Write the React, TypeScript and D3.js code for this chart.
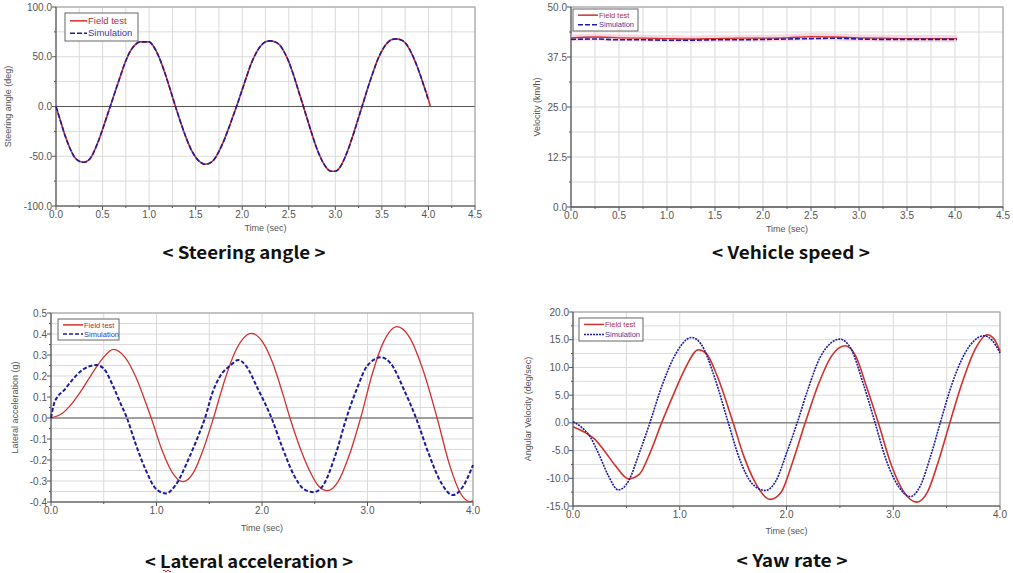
import React from 'react';
import * as d3 from 'd3';

// ---------- DATA ----------
const steerT = [0, 0.05, 0.1, 0.15, 0.2, 0.25, 0.3, 0.35, 0.4, 0.45, 0.5, 0.55, 0.6, 0.65, 0.7, 0.75, 0.8, 0.85, 0.9, 0.95, 1.0, 1.05, 1.1, 1.15, 1.2, 1.25, 1.3, 1.35, 1.4, 1.45, 1.5, 1.55, 1.6, 1.65, 1.7, 1.75, 1.8, 1.85, 1.9, 1.95, 2.0, 2.05, 2.1, 2.15, 2.2, 2.25, 2.3, 2.35, 2.4, 2.45, 2.5, 2.55, 2.6, 2.65, 2.7, 2.75, 2.8, 2.85, 2.9, 2.95, 3.0, 3.05, 3.1, 3.15, 3.2, 3.25, 3.3, 3.35, 3.4, 3.45, 3.5, 3.55, 3.6, 3.65, 3.7, 3.75, 3.8, 3.85, 3.9, 3.95, 4.0, 4.02];
const steerField = [0, -15, -30, -42, -51, -55, -56, -54, -47, -36, -23, -9, 5, 19, 33, 46, 56, 62, 65, 65, 65, 60, 51, 39, 25, 10, -5, -19, -32, -43, -51, -56, -58, -57, -53, -45, -35, -23, -10, 3, 17, 31, 44, 54, 61, 65, 66, 65, 62, 55, 45, 32, 17, 2, -13, -28, -42, -53, -61, -65, -65, -61, -52, -40, -26, -11, 4, 19, 33, 46, 56, 63, 67, 68, 67, 64, 57, 47, 35, 21, 7, 0];
const steerSim = [0, -15, -30, -42, -51, -55, -56, -54, -47, -36, -23, -9, 5, 19, 33, 46, 56, 62, 65, 65, 65, 60, 51, 39, 25, 10, -5, -19, -32, -43, -51, -56, -58, -57, -53, -45, -35, -23, -10, 3, 17, 31, 44, 54, 61, 65, 66, 65, 62, 55, 45, 32, 17, 2, -13, -28, -42, -53, -61, -65, -65, -61, -52, -40, -26, -11, 4, 19, 33, 46, 56, 63, 67, 68, 67, 64, 57, 47, 35, 21, 6];

const velT = [0, 0.25, 0.5, 0.75, 1.0, 1.25, 1.5, 1.75, 2.0, 2.25, 2.5, 2.75, 3.0, 3.25, 3.5, 3.75, 4.0, 4.02];
const velField = [42.3, 42.5, 42.3, 42.2, 42.1, 42.0, 42.1, 42.2, 42.2, 42.3, 42.6, 42.5, 42.3, 42.2, 42.1, 42.1, 42.1, 42.1];
const velSim = [41.9, 42.0, 41.8, 41.8, 41.7, 41.7, 41.8, 41.8, 41.9, 42.0, 42.1, 42.2, 42.0, 41.9, 41.9, 41.9, 41.9, 41.9];

const latFieldT = [0, 0.1, 0.2, 0.3, 0.4, 0.5, 0.59, 0.7, 0.8, 0.9, 0.95, 1.05, 1.15, 1.25, 1.35, 1.45, 1.54, 1.65, 1.75, 1.9, 2.0, 2.1, 2.2, 2.265, 2.35, 2.45, 2.53, 2.62, 2.72, 2.83, 2.935, 3.05, 3.15, 3.28, 3.4, 3.52, 3.66, 3.78, 3.88, 3.97, 4.0];
const latField = [0, 0.02, 0.07, 0.14, 0.22, 0.29, 0.327, 0.29, 0.2, 0.07, 0.0, -0.15, -0.26, -0.303, -0.26, -0.14, 0.0, 0.186, 0.32, 0.403, 0.366, 0.264, 0.11, 0.0, -0.127, -0.25, -0.32, -0.346, -0.304, -0.173, 0.0, 0.218, 0.36, 0.435, 0.383, 0.238, 0.0, -0.227, -0.357, -0.398, -0.395];
const latSimT = [0, 0.03, 0.06, 0.12, 0.2, 0.3, 0.43, 0.5, 0.59, 0.65, 0.72, 0.8, 0.9, 1.0, 1.09, 1.18, 1.3, 1.4, 1.46, 1.53, 1.6, 1.7, 1.775, 1.855, 1.95, 2.09, 2.2, 2.3, 2.4, 2.49, 2.58, 2.7, 2.8, 2.9, 3.0, 3.13, 3.22, 3.35, 3.46, 3.58, 3.7, 3.81, 3.9, 4.0];
const latSim = [0, 0.07, 0.1, 0.13, 0.18, 0.23, 0.252, 0.235, 0.15, 0.08, 0.0, -0.12, -0.25, -0.34, -0.359, -0.32, -0.2, -0.08, 0.0, 0.12, 0.197, 0.25, 0.276, 0.244, 0.15, 0.0, -0.15, -0.27, -0.34, -0.353, -0.32, -0.17, 0.0, 0.14, 0.25, 0.289, 0.26, 0.13, 0.0, -0.17, -0.31, -0.367, -0.33, -0.224];

const yawFieldT = [0, 0.1, 0.2, 0.3, 0.4, 0.52, 0.62, 0.72, 0.83, 0.95, 1.05, 1.175, 1.25, 1.35, 1.5, 1.6, 1.7, 1.846, 1.95, 2.05, 2.175, 2.3, 2.42, 2.55, 2.65, 2.75, 2.86, 2.98, 3.1, 3.22, 3.32, 3.43, 3.53, 3.65, 3.76, 3.88, 3.95, 4.0];
const yawField = [-0.7, -1.6, -2.9, -5.2, -7.8, -10.1, -9.3, -5.5, 0.0, 5.5, 9.8, 13.2, 12.5, 8.5, 0.0, -6.0, -10.5, -13.8, -12.5, -7.5, 0.0, 7.0, 12.0, 13.9, 12.0, 6.5, 0.0, -7.5, -12.5, -14.3, -12.5, -6.5, 0.0, 7.5, 13.0, 15.9, 15.0, 12.9];
const yawSimT = [0, 0.08, 0.16, 0.25, 0.33, 0.425, 0.52, 0.62, 0.72, 0.83, 0.95, 1.11, 1.2, 1.33, 1.455, 1.56, 1.68, 1.8, 1.9, 2.0, 2.1, 2.2, 2.32, 2.5, 2.6, 2.72, 2.83, 2.93, 3.05, 3.16, 3.25, 3.35, 3.44, 3.55, 3.67, 3.85, 3.93, 4.0];
const yawSim = [0.2, -0.8, -2.5, -6.0, -9.5, -12.1, -10.5, -5.5, 0.0, 6.5, 12.0, 15.4, 14.2, 8.0, 0.0, -6.5, -11.0, -12.2, -10.5, -5.5, 0.0, 6.0, 12.0, 15.1, 13.5, 7.0, 0.0, -6.5, -11.5, -13.3, -11.5, -6.0, 0.0, 7.0, 12.5, 15.7, 14.8, 12.6];

const seriesNames = ['Field test', 'Simulation'];
const captions = ['< Steering angle >', '< Vehicle speed >', '< Lateral acceleration >', '< Yaw rate >'];
const yTitles = ['Steering angle (deg)', 'Velocity (km/h)', 'Lateral acceleration (g)', 'Angular Velocity (deg/sec)'];
const xTitle = 'Time (sec)';

// ---------- STYLE ----------
const RED = '#d0312d';
const BLUE = '#1c1ca0';
const GRID = '#dadada';
const TICKFONT = '"Liberation Sans", Arial, sans-serif';

type Cfg = {
  left: number; right: number; top: number; bottom: number;
  xDomain: [number, number]; yDomain: [number, number];
  xTickStep: number; xGridStep: number; yTickStep: number; yGridStep: number;
  yDec: number; tickSize: number;
  yTitle: string; yTitleX: number; xTitleY: number;
  legend: { x: number; y: number; w: number; h: number; fs: number; lineLen: number };
  field: [number, number][]; sim: [number, number][];
  simDash: string; simWidth: number; fieldWidth: number; band?: boolean;
};

const zip = (t: number[], v: number[]): [number, number][] => v.map((d, i) => [t[i], d]);

function range(a: number, b: number, s: number) {
  const out: number[] = [];
  const n = Math.round((b - a) / s);
  for (let i = 0; i <= n; i++) out.push(+(a + i * s).toFixed(6));
  return out;
}

function Panel({ c }: { c: Cfg }) {
  const x = d3.scaleLinear().domain(c.xDomain).range([c.left, c.right]);
  const y = d3.scaleLinear().domain(c.yDomain).range([c.bottom, c.top]);
  const line = d3.line<[number, number]>().x(d => x(d[0])).y(d => y(d[1])).curve(d3.curveMonotoneX);
  const xGrid = range(c.xDomain[0], c.xDomain[1], c.xGridStep);
  const yGrid = range(c.yDomain[0], c.yDomain[1], c.yGridStep);
  const xTicks = range(c.xDomain[0], c.xDomain[1], c.xTickStep);
  const yTicks = range(c.yDomain[0], c.yDomain[1], c.yTickStep);
  const isMajor = (v: number, step: number, base: number) => Math.abs(((v - base) / step) - Math.round((v - base) / step)) < 1e-6;
  const L = c.legend;
  const cx = (c.left + c.right) / 2;
  const cy = (c.top + c.bottom) / 2;
  return (
    <g>
      {xGrid.map((v, i) => (
        <line key={'xg' + i} x1={x(v)} x2={x(v)} y1={c.top} y2={c.bottom} stroke={GRID} strokeWidth={1} />
      ))}
      {yGrid.map((v, i) => (
        <line key={'yg' + i} x1={c.left} x2={c.right} y1={y(v)} y2={y(v)} stroke={GRID} strokeWidth={1} />
      ))}
      <line x1={c.left} x2={c.right} y1={y(0)} y2={y(0)} stroke="#555" strokeWidth={1} />
      <rect x={c.left} y={c.top} width={c.right - c.left} height={c.bottom - c.top} fill="none" stroke="#9a9a9a" strokeWidth={1} />
      <line x1={c.left} x2={c.left} y1={c.top} y2={c.bottom} stroke="#555" />
      <line x1={c.left} x2={c.right} y1={c.bottom} y2={c.bottom} stroke="#555" />
      {yGrid.map((v, i) => {
        const maj = isMajor(v, c.yTickStep, c.yDomain[0]);
        return <line key={'yt' + i} x1={c.left - (maj ? 4 : 2)} x2={c.left} y1={y(v)} y2={y(v)} stroke="#555" />;
      })}
      {xGrid.map((v, i) => {
        const maj = isMajor(v, c.xTickStep, c.xDomain[0]);
        return <line key={'xt' + i} x1={x(v)} x2={x(v)} y1={c.bottom} y2={c.bottom + (maj ? 4 : 2)} stroke="#555" />;
      })}
      {yTicks.map((v, i) => (
        <text key={'yl' + i} x={c.left - 4} y={y(v)} dy="0.35em" textAnchor="end" fontFamily={TICKFONT} fontSize={c.tickSize} fill="#555">
          {v.toFixed(c.yDec)}
        </text>
      ))}
      {xTicks.map((v, i) => (
        <text key={'xl' + i} x={x(v)} y={c.bottom + 12} textAnchor="middle" fontFamily={TICKFONT} fontSize={c.tickSize} fill="#555">
          {v.toFixed(1)}
        </text>
      ))}
      <text x={c.yTitleX} y={cy} transform={`rotate(-90 ${c.yTitleX} ${cy})`} textAnchor="middle" dy="0.35em" fontFamily={TICKFONT} fontSize={9} fill="#555">
        {c.yTitle}
      </text>
      <text x={cx} y={c.xTitleY} textAnchor="middle" fontFamily={TICKFONT} fontSize={9} fill="#555">
        {xTitle}
      </text>
      {c.band && <path d={line(c.field) || ''} fill="none" stroke="#f4b8cc" strokeOpacity={0.55} strokeWidth={7} />}
      <path d={line(c.field) || ''} fill="none" stroke={RED} strokeWidth={c.fieldWidth} />
      <path d={line(c.sim) || ''} fill="none" stroke={BLUE} strokeWidth={c.simWidth} strokeDasharray={c.simDash} />
      <rect x={L.x} y={L.y} width={L.w} height={L.h} fill="#fff" stroke="#666" strokeWidth={1} />
      <line x1={L.x + 5} x2={L.x + 5 + L.lineLen} y1={L.y + L.h * 0.28} y2={L.y + L.h * 0.28} stroke={RED} strokeWidth={1.5} />
      <line x1={L.x + 5} x2={L.x + 5 + L.lineLen} y1={L.y + L.h * 0.72} y2={L.y + L.h * 0.72} stroke={BLUE} strokeWidth={1.5} strokeDasharray={c.simDash} />
      <text x={L.x + 6 + L.lineLen} y={L.y + L.h * 0.28} dy="0.35em" fontFamily={TICKFONT} fontSize={L.fs} fill="#b0303a">{seriesNames[0]}</text>
      <text x={L.x + 6 + L.lineLen} y={L.y + L.h * 0.72} dy="0.35em" fontFamily={TICKFONT} fontSize={L.fs} fill="#3a3aa8">{seriesNames[1]}</text>
    </g>
  );
}

const panels: Cfg[] = [
  {
    left: 56, right: 475, top: 7, bottom: 206, xDomain: [0, 4.5], yDomain: [-100, 100],
    xTickStep: 0.5, xGridStep: 0.25, yTickStep: 50, yGridStep: 25, yDec: 1, tickSize: 10,
    yTitle: yTitles[0], yTitleX: 8, xTitleY: 231,
    legend: { x: 65, y: 13, w: 73, h: 28, fs: 9.5, lineLen: 17 },
    field: zip(steerT, steerField), sim: zip(steerT, steerSim), simDash: '5,2', simWidth: 1.6, fieldWidth: 1.6,
  },
  {
    left: 571, right: 1003, top: 7, bottom: 207, xDomain: [0, 4.5], yDomain: [0, 50],
    xTickStep: 0.5, xGridStep: 0.25, yTickStep: 12.5, yGridStep: 6.25, yDec: 1, tickSize: 10,
    yTitle: yTitles[1], yTitleX: 537, xTitleY: 232,
    legend: { x: 573, y: 9, w: 65, h: 22, fs: 7.5, lineLen: 20 },
    field: zip(velT, velField), sim: zip(velT, velSim), simDash: '5,2', simWidth: 1.6, fieldWidth: 1.3, band: true,
  },
  {
    left: 51, right: 473, top: 313, bottom: 502, xDomain: [0, 4], yDomain: [-0.4, 0.5],
    xTickStep: 1, xGridStep: 0.5, yTickStep: 0.1, yGridStep: 0.05, yDec: 1, tickSize: 10,
    yTitle: yTitles[2], yTitleX: 15, xTitleY: 531,
    legend: { x: 58, y: 319, w: 61, h: 21, fs: 7.5, lineLen: 20 },
    field: zip(latFieldT, latField), sim: zip(latSimT, latSim), simDash: '4,2', simWidth: 2, fieldWidth: 1.3,
  },
  {
    left: 573, right: 1000, top: 312, bottom: 506, xDomain: [0, 4], yDomain: [-15, 20],
    xTickStep: 1, xGridStep: 0.5, yTickStep: 5, yGridStep: 2.5, yDec: 1, tickSize: 10,
    yTitle: yTitles[3], yTitleX: 528, xTitleY: 534,
    legend: { x: 579, y: 318, w: 64, h: 23, fs: 7.5, lineLen: 20 },
    field: zip(yawFieldT, yawField), sim: zip(yawSimT, yawSim), simDash: '2,1', simWidth: 1.6, fieldWidth: 1.6,
  },
];

const captionPos = [
  { x: 244, y: 259, w: 163 },
  { x: 791, y: 259, w: 158 },
  { x: 249, y: 568, w: 208 },
  { x: 792, y: 567, w: 111 },
];

export default function App() {
  return (
    <svg width={1013} height={573} style={{ position: 'absolute', left: 0, top: 0, background: '#fff' }}>
      <rect x={0} y={0} width={1013} height={573} fill="#fff" />
      {panels.map((p, i) => <Panel key={i} c={p} />)}
      {captions.map((t, i) => (
        <text key={'cap' + i} x={captionPos[i].x} y={captionPos[i].y} textAnchor="middle"
          fontFamily='"Noto Sans CJK KR", "Noto Sans", sans-serif' fontWeight={700} fontSize={17} fill="#111"
          textLength={captionPos[i].w} lengthAdjust="spacingAndGlyphs">
          {t}
        </text>
      ))}
      <path d="M163,571 q1,-2 2,0 t2,0 t2,0 t2,0" fill="none" stroke="#e02020" strokeWidth={1} />
    </svg>
  );
}
